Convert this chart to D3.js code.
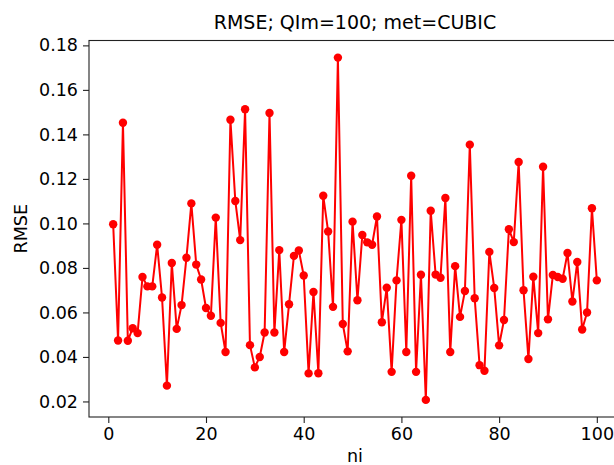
<!DOCTYPE html>
<html>
<head>
<meta charset="utf-8">
<script src="https://cdn.jsdelivr.net/npm/d3@7"></script>
<style>
  body { margin: 0; background: #fff; }
  text { font-family: "DejaVu Sans", sans-serif; fill: #000; }
</style>
</head>
<body>
<div id="chart"></div>
<script>

var chartTitle = "RMSE; QIm=100; met=CUBIC";
var xLabel = "ni";
var yLabel = "RMSE";

var niValues = d3.range(1, 101);
var rmseValues = [
  0.0996, 0.0474, 0.1452, 0.0473, 0.0529, 0.0507, 0.0759, 0.0717, 0.0717, 0.0904,
  0.0667, 0.0271, 0.0822, 0.0526, 0.0633, 0.0846, 0.1090, 0.0815, 0.0748, 0.0620,
  0.0585, 0.1026, 0.0553, 0.0422, 0.1466, 0.1101, 0.0925, 0.1513, 0.0453, 0.0353,
  0.0400, 0.0510, 0.1496, 0.0510, 0.0880, 0.0422, 0.0637, 0.0854, 0.0878, 0.0766,
  0.0326, 0.0692, 0.0327, 0.1124, 0.0964, 0.0625, 0.1745, 0.0548, 0.0425, 0.1008,
  0.0655, 0.0948, 0.0915, 0.0904, 0.1031, 0.0556, 0.0711, 0.0333, 0.0744, 0.1016,
  0.0422, 0.1214, 0.0333, 0.0769, 0.0207, 0.1057, 0.0770, 0.0756, 0.1114, 0.0422,
  0.0808, 0.0580, 0.0696, 0.1354, 0.0664, 0.0363, 0.0338, 0.0872, 0.0710, 0.0452,
  0.0566, 0.0974, 0.0916, 0.1276, 0.0700, 0.0391, 0.0760, 0.0507, 0.1255, 0.0569,
  0.0768, 0.0759, 0.0751, 0.0867, 0.0649, 0.0827, 0.0523, 0.0600, 0.1068, 0.0744
];
var xTicks = [0, 20, 40, 60, 80, 100];
var yTicks = [0.02, 0.04, 0.06, 0.08, 0.10, 0.12, 0.14, 0.16, 0.18];

var data = niValues.map(function(n, i){ return {ni: n, rmse: rmseValues[i]}; });

var width = 614, height = 465;
var margin = { top: 40.5, right: -7, bottom: 48, left: 89 };
var plotWidth = width - margin.left - margin.right;
var plotHeight = height - margin.top - margin.bottom;

// matplotlib style 5% padding
var xExt = d3.extent(niValues), yExt = d3.extent(rmseValues);
var xPad = (xExt[1] - xExt[0]) * 0.05, yPad = (yExt[1] - yExt[0]) * 0.05;

var x = d3.scaleLinear()
  .domain([xExt[0] - xPad, xExt[1] + xPad])
  .range([0, plotWidth]);
var y = d3.scaleLinear()
  .domain([yExt[0] - yPad, yExt[1] + yPad])
  .range([plotHeight, 0]);

var svg = d3.select("#chart").append("svg")
  .attr("width", width)
  .attr("height", height);

var g = svg.append("g")
  .attr("transform", "translate(" + margin.left + "," + margin.top + ")");

var xAxis = d3.axisBottom(x).tickValues(xTicks).tickSize(6).tickPadding(5).tickFormat(d3.format("d"));
var yAxis = d3.axisLeft(y).tickValues(yTicks).tickSize(6).tickPadding(5).tickFormat(d3.format(".2f"));

var gx = g.append("g")
  .attr("transform", "translate(0," + plotHeight + ")")
  .call(xAxis);
var gy = g.append("g")
  .call(yAxis);

[gx, gy].forEach(function(ax){
  ax.select(".domain").remove();
  ax.selectAll(".tick line").attr("stroke", "#222").attr("stroke-width", 1.1);
  ax.selectAll(".tick text").style("font-size", "17.5px").style("font-family", "DejaVu Sans");
});
gx.selectAll(".tick text").attr("dy", "0.71em");

// spines
g.append("rect")
  .attr("x", 0).attr("y", 0)
  .attr("width", plotWidth).attr("height", plotHeight)
  .attr("fill", "none")
  .attr("stroke", "#222")
  .attr("stroke-width", 1.1);

var line = d3.line()
  .x(function(d){ return x(d.ni); })
  .y(function(d){ return y(d.rmse); });

g.append("path")
  .datum(data)
  .attr("fill", "none")
  .attr("stroke", "#ff0000")
  .attr("stroke-width", 2)
  .attr("stroke-linejoin", "round")
  .attr("d", line);

g.selectAll("circle")
  .data(data)
  .enter()
  .append("circle")
  .attr("cx", function(d){ return x(d.ni); })
  .attr("cy", function(d){ return y(d.rmse); })
  .attr("r", 4.2)
  .attr("fill", "#ff0000");

svg.append("text")
  .attr("x", margin.left + plotWidth / 2)
  .attr("y", 29)
  .attr("text-anchor", "middle")
  .style("font-size", "19px")
  .text(chartTitle);

svg.append("text")
  .attr("x", margin.left + plotWidth / 2)
  .attr("y", 462)
  .attr("text-anchor", "middle")
  .style("font-size", "17.5px")
  .text(xLabel);

svg.append("text")
  .attr("transform", "translate(27," + (margin.top + plotHeight / 2) + ") rotate(-90)")
  .attr("text-anchor", "middle")
  .style("font-size", "17.5px")
  .text(yLabel);

</script>
</body>
</html>
